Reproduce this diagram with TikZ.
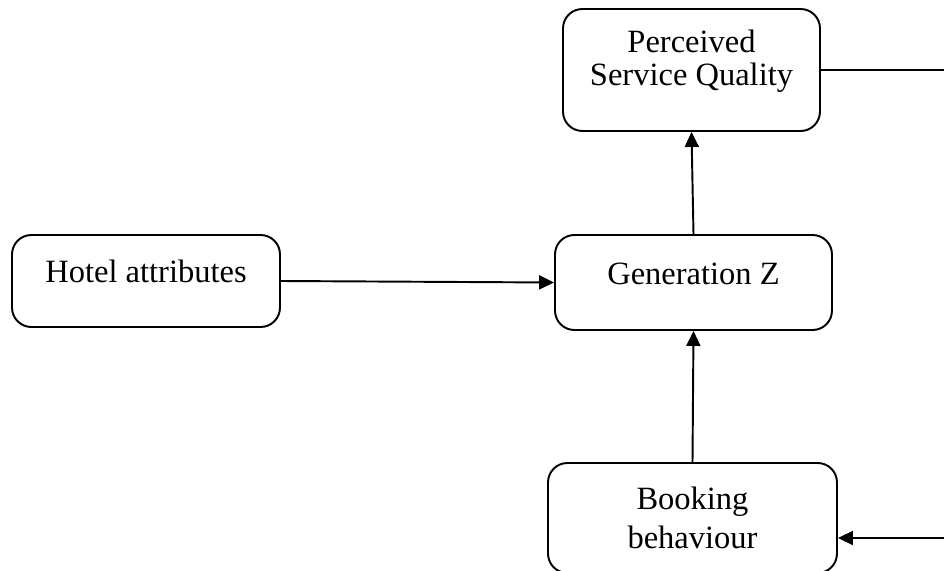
\documentclass[tikz,border=0pt]{standalone}
\usepackage{fontspec}
\setmainfont{Liberation Serif}
\usetikzlibrary{arrows.meta}
\newcommand{\rightx}{944}
\newcommand{\loopa}{70}
\newcommand{\loopb}{538}

\begin{document}
\begin{tikzpicture}[x=0.02cm,y=-0.02cm,line width=1.1pt,
    every node/.style={font=\fontsize{18.5}{22}\selectfont},
    stage/.style={draw,rounded corners=11pt,align=center,inner sep=0},
    upper/.style={text height=13pt,text depth=11pt},
    arr/.style={-{Triangle[length=3mm,width=2.8mm]}}]
        \useasboundingbox (0,0) rectangle (944,571);
        \clip (0,0) rectangle (944,571);

        \node[stage,minimum width=5.14cm,minimum height=2.44cm] (quality) at (691.5,70) {Perceived\\[-3pt]Service Quality\\[-8pt]\mbox{}};
        \node[stage,upper,minimum width=5.54cm,minimum height=1.9cm] (genz) at (693.5,282.5) {Generation Z};
        \node[stage,upper,minimum width=5.36cm,minimum height=1.84cm] (hotel) at (146,281) {Hotel attributes};
        \node[stage,minimum width=5.78cm,minimum height=2.2cm] (booking) at (692.5,518) {Booking\\behaviour};

        \coordinate (outa) at (\rightx,\loopa);
        \coordinate (outb) at (\rightx,\loopb);

        \draw[arr] (hotel.east) -- (genz.west);
        \draw[arr] (genz.north) -- (quality.south);
        \draw[arr] (booking.north) -- (genz.south);
        \draw (quality.east) -- (outa); % to the right
        \draw[arr] (outb) -- (booking.east |- outb); % back in

    \end{tikzpicture}
\end{document}
